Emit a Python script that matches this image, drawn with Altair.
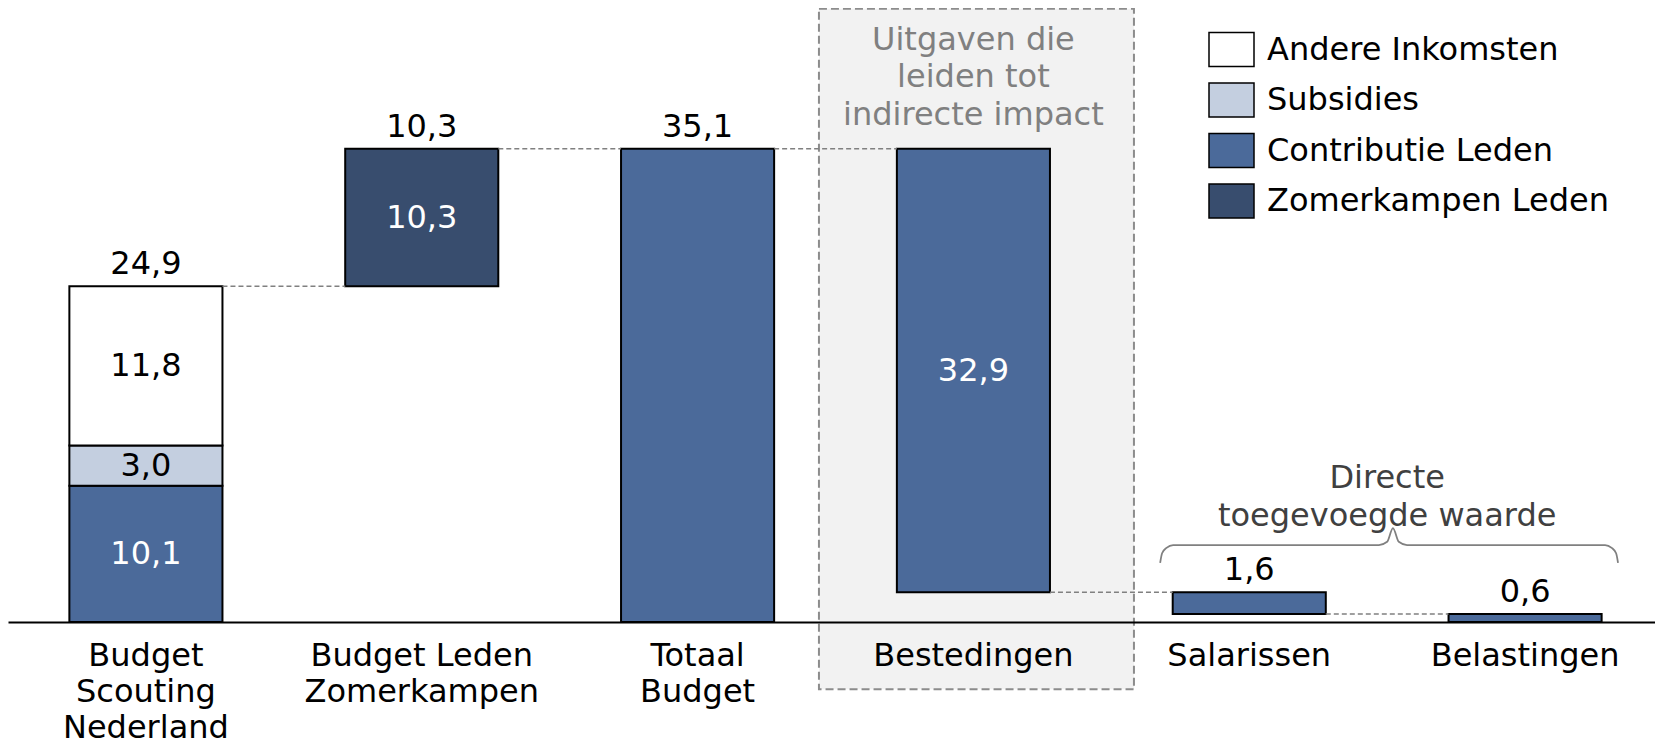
import altair as alt
import pandas as pd

# ---------------- data ----------------
categories = ["Budget\nScouting\nNederland", "Budget Leden\nZomerkampen", "Totaal\nBudget",
              "Bestedingen", "Salarissen", "Belastingen"]
series_names = ["Andere Inkomsten", "Subsidies", "Contributie Leden", "Zomerkampen Leden"]
series_colors = ["#FFFFFF", "#C4CFE0", "#4B6A9A", "#384D6E"]

seg_category = [0, 0, 0, 1, 2, 3, 4, 5]
seg_series = ["Contributie Leden", "Subsidies", "Andere Inkomsten", "Zomerkampen Leden",
              "Contributie Leden", "Contributie Leden", "Contributie Leden", "Contributie Leden"]
seg_start = [0.0, 10.1, 13.1, 24.9, 0.0, 2.2, 0.6, 0.0]
seg_end = [10.1, 13.1, 24.9, 35.1, 35.1, 35.1, 2.2, 0.6]
seg_value = [10.1, 3.0, 11.8, 10.3, 35.1, 32.9, 1.6, 0.6]
seg_inside_label = [True, True, True, True, False, True, False, False]

top_category = [0, 1, 2, 4, 5]
top_level = [24.9, 35.1, 35.1, 2.2, 0.6]
top_value = [24.9, 10.3, 35.1, 1.6, 0.6]

conn_from = [0, 1, 2, 3, 4]
conn_level = [24.9, 35.1, 35.1, 2.2, 0.6]

# annotations (x in category-index units, y in value units)
box_x = [2.44, 3.582]
box_y = [45.5, -4.99]
box_text = "Uitgaven die\nleiden tot\nindirecte impact"
box_text_pos = [3, 43.18]

brace_x = [3.677, 3.684, 3.700, 3.724, 4.470, 4.500, 4.521, 4.542, 4.572, 5.290, 5.314, 5.330, 5.337]
brace_y = [4.38, 5.10, 5.50, 5.71, 5.71, 5.95, 6.97, 5.95, 5.71, 5.71, 5.50, 5.10, 4.38]
brace_text = "Directe\ntoegevoegde waarde"
brace_text_pos = [4.5, 10.68]

# ---------------- style ----------------
FONT = "DejaVu Sans"
FS = 32
W, H = 1647, 614
XRANGE = [0, 1655]
YMAX = 45.55

fmt = lambda v: f"{v:.1f}".replace(".", ",")

seg_df = pd.DataFrame({
    "cat": [categories[i] for i in seg_category],
    "series": seg_series,
    "start": seg_start,
    "end": seg_end,
    "label": [fmt(v) for v in seg_value],
    "inside": seg_inside_label,
})
seg_df["mid"] = (seg_df["start"] + seg_df["end"]) / 2
inside_df = seg_df[seg_df["inside"]].copy()

top_df = pd.DataFrame({
    "cat": [categories[i] for i in top_category],
    "level": top_level,
    "label": [fmt(v) for v in top_value],
})
conn_df = pd.DataFrame({
    "from": [categories[i] for i in conn_from],
    "to": [categories[i + 1] for i in conn_from],
    "level": conn_level,
})
box_df = pd.DataFrame({"x": [box_x[0]], "x2": [box_x[1]], "y": [box_y[0]], "y2": [box_y[1]]})
box_text_df = pd.DataFrame({"cat": [categories[box_text_pos[0]]], "y": [box_text_pos[1]], "t": [box_text]})
brace_df = pd.DataFrame({"x": brace_x, "y": brace_y, "o": list(range(len(brace_x)))})
brace_text_df = pd.DataFrame({"x": [brace_text_pos[0]], "y": [brace_text_pos[1]], "t": [brace_text]})

xband = alt.Scale(domain=categories, paddingInner=0.445, paddingOuter=0.2225, range=XRANGE)
xq = alt.Scale(domain=[-0.5, 5.5], nice=False, zero=False, range=XRANGE)
yscale = alt.Scale(domain=[0, YMAX], nice=False, zero=False)

# ---------------- layers ----------------
box = alt.Chart(box_df).mark_rect(fill="#F2F2F2", stroke="#8C8C8C", strokeWidth=2,
                                  strokeDash=[8, 4]).encode(
    x=alt.X("x:Q", scale=xq, axis=None), x2="x2:Q",
    y=alt.Y("y:Q", scale=yscale, axis=None), y2="y2:Q")

bars = alt.Chart(seg_df).mark_bar(stroke="black", strokeWidth=2).encode(
    x=alt.X("cat:N", scale=xband, sort=categories, title=None,
            axis=alt.Axis(orient="bottom", labelAngle=0, labelExpr="split(datum.label, '\\n')",
                          labelFont=FONT, labelFontSize=FS, labelColor="black",
                          labelLineHeight=36, labelPadding=43, labelBaseline="alphabetic",
                          labelLimit=500, ticks=False, tickSize=0, domainColor="black",
                          domainWidth=2, zindex=1, grid=False, title=None)),
    y=alt.Y("start:Q", scale=yscale, axis=None),
    y2="end:Q",
    fill=alt.Fill("series:N", scale=alt.Scale(domain=series_names, range=series_colors),
                  legend=alt.Legend(title=None, orient="none", legendX=1200, legendY=18,
                                    symbolType="M-1,-0.756H1V0.756H-1Z", symbolSize=2025,
                                    symbolStrokeColor="black", symbolStrokeWidth=1.5,
                                    symbolOpacity=1, labelFont=FONT, labelFontSize=FS,
                                    labelColor="black", labelOffset=12, rowPadding=6.5,
                                    padding=0, labelLimit=500)))

conn = alt.Chart(conn_df).mark_rule(color="#808080", strokeWidth=1.5, strokeDash=[5, 3]).encode(
    x=alt.X("from:N", scale=xband, bandPosition=1, title=None),
    x2=alt.X2("to:N", bandPosition=0),
    y=alt.Y("level:Q", scale=yscale, axis=None))

inside_txt = alt.Chart(inside_df).mark_text(font=FONT, fontSize=FS, baseline="middle").encode(
    x=alt.X("cat:N", scale=xband, title=None),
    y=alt.Y("mid:Q", scale=yscale, axis=None),
    text="label:N",
    color=alt.condition(alt.FieldOneOfPredicate(field="series",
                                                oneOf=["Contributie Leden", "Zomerkampen Leden"]),
                        alt.value("white"), alt.value("black")))

top_txt = alt.Chart(top_df).mark_text(font=FONT, fontSize=FS, baseline="alphabetic", dy=-12,
                                      color="black").encode(
    x=alt.X("cat:N", scale=xband, title=None),
    y=alt.Y("level:Q", scale=yscale, axis=None),
    text="label:N")

box_txt = alt.Chart(box_text_df).mark_text(font=FONT, fontSize=FS, baseline="middle",
                                           lineBreak="\n", lineHeight=37.5, color="#808080").encode(
    x=alt.X("cat:N", scale=xband, title=None),
    y=alt.Y("y:Q", scale=yscale, axis=None),
    text="t:N")

band_group = alt.layer(bars, conn, inside_txt, top_txt, box_txt)

brace = alt.Chart(brace_df).mark_line(color="#808080", strokeWidth=1.8, interpolate="monotone").encode(
    x=alt.X("x:Q", scale=xq, axis=None),
    y=alt.Y("y:Q", scale=yscale, axis=None),
    order="o:Q")

brace_txt = alt.Chart(brace_text_df).mark_text(font=FONT, fontSize=FS, baseline="middle",
                                               lineBreak="\n", lineHeight=38, color="#404040").encode(
    x=alt.X("x:Q", scale=xq, axis=None),
    y=alt.Y("y:Q", scale=yscale, axis=None),
    text="t:N")

chart = alt.layer(box, band_group, brace, brace_txt).resolve_scale(x="independent").properties(
    width=W, height=H,
    autosize=alt.AutoSizeParams(type="none"),
    padding={"left": 0, "top": 0, "right": 0, "bottom": 124},
).configure_view(stroke=None)

chart.save("out.html", embed_options={"renderer": "svg", "actions": False})
